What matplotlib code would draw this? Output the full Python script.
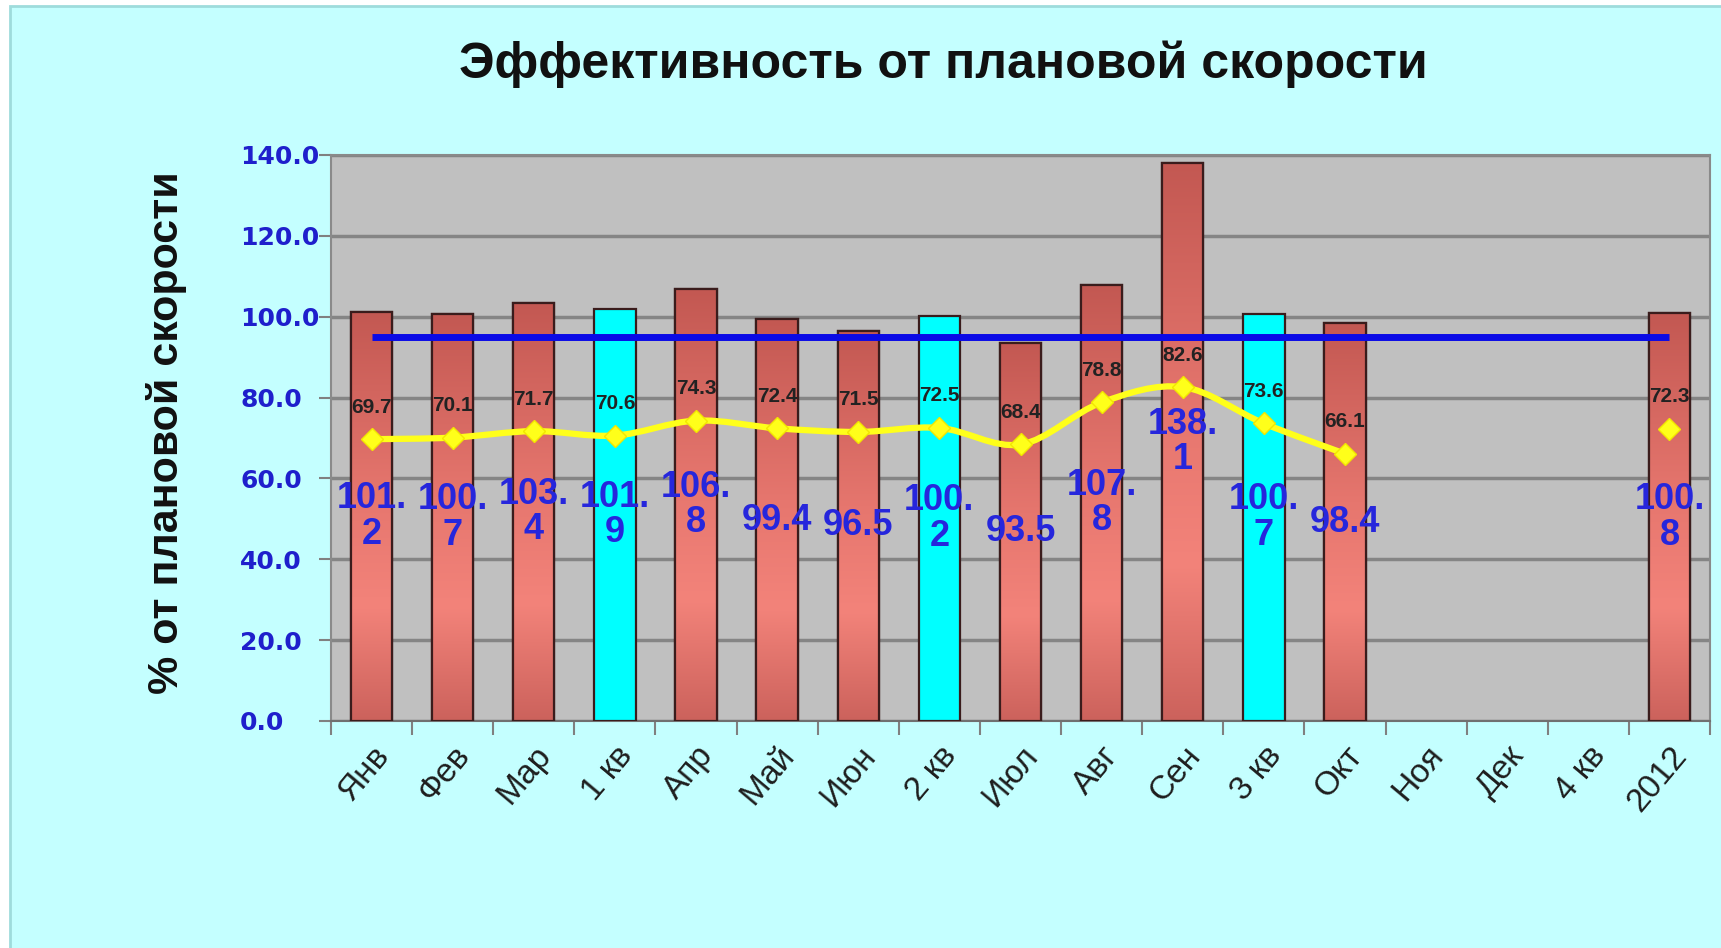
import numpy as np
import matplotlib
matplotlib.use('Agg')
import matplotlib.pyplot as plt
from matplotlib import font_manager
from matplotlib.path import Path
from matplotlib.patches import PathPatch, Rectangle
from matplotlib.colors import LinearSegmentedColormap
from matplotlib.ticker import FixedLocator, FuncFormatter

# ---------------- data ----------------
categories = ['Янв', 'Фев', 'Мар', '1 кв', 'Апр', 'Май', 'Июн', '2 кв', 'Июл',
              'Авг', 'Сен', '3 кв', 'Окт', 'Ноя', 'Дек', '4 кв', '2012']
efficiency = [101.2, 100.7, 103.4, 101.9, 106.8, 99.4, 96.5, 100.2, 93.5,
              107.8, 138.1, 100.7, 98.4, np.nan, np.nan, np.nan, 100.8]
second_series = [69.7, 70.1, 71.7, 70.6, 74.3, 72.4, 71.5, 72.5, 68.4,
                 78.8, 82.6, 73.6, 66.1, np.nan, np.nan, np.nan, 72.3]
plan_level = [95.0] * 17
is_quarter = [False, False, False, True, False, False, False, True, False,
              False, False, True, False, False, False, True, False]
y_ticks = [0, 20, 40, 60, 80, 100, 120, 140]

title = 'Эффективность от плановой скорости'
y_label = '% от плановой скорости'

# ---------------- fonts ----------------
available = {f.name for f in font_manager.fontManager.ttflist}
sans = 'Liberation Sans' if 'Liberation Sans' in available else 'DejaVu Sans'
narrow = 'Liberation Sans Narrow' if 'Liberation Sans Narrow' in available else sans
narrow_size = 31 if narrow != sans else 26

W, H = 1721, 948
fig = plt.figure(figsize=(W / 100, H / 100), dpi=100, facecolor='white')

# slide panel
fig.patches.append(Rectangle((10 / W, -0.01), 1.0, 1 - 6 / H + 0.01,
                             transform=fig.transFigure, facecolor='#c4ffff',
                             edgecolor='#9edcdc', lw=2, zorder=-5))

ax = fig.add_axes([331 / W, 1 - 721 / H, (1710 - 331) / W, (721 - 155) / H])
ax.set_zorder(2)
ax.set_facecolor('#c0c0c0')

x = np.arange(len(categories))
eff = np.array(efficiency, dtype=float)
sec = np.array(second_series, dtype=float)
has_bar = np.isfinite(eff)
quarter = np.array(is_quarter)

# bars
bar_colors = ['#00ffff' if q else '#d0665f' for q in quarter[has_bar]]
bars = ax.bar(x[has_bar], eff[has_bar], width=0.51, color=bar_colors,
              edgecolor='#3a1c1c', linewidth=1.6, zorder=3)

# gradient fill for month bars
cmap = LinearSegmentedColormap.from_list(
    'bargrad', [(0.0, '#cc625c'), (0.28, '#f3837a'), (0.55, '#e6766e'), (1.0, '#c35852')])
grad = np.linspace(0, 1, 256).reshape(-1, 1)
for b, q in zip(bars, quarter[has_bar]):
    if q:
        continue
    x0 = b.get_x()
    w = b.get_width()
    h = b.get_height()
    im = ax.imshow(grad, extent=[x0, x0 + w, 0, h], origin='lower', aspect='auto',
                   cmap=cmap, zorder=3.5, interpolation='bicubic')
    im.set_clip_path(b)
    ax.add_patch(Rectangle((x0, 0), w, h, facecolor='none', edgecolor='#3a1c1c',
                           lw=1.6, zorder=3.6))

# plan line
ax.plot(x, plan_level, color='#0a0ae6', lw=5, zorder=5, solid_capstyle='butt')

# smoothed yellow line (Excel-like Bezier smoothing)
def smooth_path(xs, ys, t=1 / 6):
    verts = [(xs[0], ys[0])]
    codes = [Path.MOVETO]
    n = len(xs)
    for i in range(n - 1):
        p0 = np.array([xs[max(i - 1, 0)], ys[max(i - 1, 0)]])
        p1 = np.array([xs[i], ys[i]])
        p2 = np.array([xs[i + 1], ys[i + 1]])
        p3 = np.array([xs[min(i + 2, n - 1)], ys[min(i + 2, n - 1)]])
        c1 = p1 + (p2 - p0) * t
        c2 = p2 - (p3 - p1) * t
        verts += [tuple(c1), tuple(c2), tuple(p2)]
        codes += [Path.CURVE4] * 3
    return Path(verts, codes)

runs = []
cur = []
for i in range(len(x)):
    if np.isfinite(sec[i]):
        cur.append(i)
    else:
        if cur:
            runs.append(cur)
        cur = []
if cur:
    runs.append(cur)
for r in runs:
    if len(r) > 1:
        p = smooth_path(x[r].astype(float), sec[r])
        ax.add_patch(PathPatch(p, facecolor='none', edgecolor='#ffff1a', lw=4.5, zorder=6,
                               capstyle='round'))
ax.plot(x, sec, linestyle='none', marker='D', markersize=11, color='#ffff1a',
        markeredgecolor='#f2e600', zorder=7)

# labels for yellow series
for i in range(len(x)):
    if np.isfinite(sec[i]):
        ax.annotate(f'{sec[i]:.1f}', (x[i], sec[i]), xytext=(0, 23),
                    textcoords='offset points', ha='center', va='center',
                    fontsize=15, fontweight='bold', color='#222222',
                    family=narrow, zorder=8)

# labels for bars
for i in range(len(x)):
    if np.isfinite(eff[i]):
        s = f'{eff[i]:.1f}'
        if eff[i] >= 100:
            s = s.replace('.', '.\n')
        ax.text(x[i], eff[i] / 2, s, ha='center', va='center', fontsize=narrow_size,
                fontweight='bold', color='#2626dc', family=narrow, linespacing=1.02,
                zorder=8, clip_on=False)

ax.set_xlim(-0.5, len(x) - 0.5)
ax.set_ylim(0, 140)

# grid and spines
ax.set_axisbelow(True)
ax.yaxis.grid(True, color='#858585', lw=2.5)
for s in ax.spines.values():
    s.set_color('#8a8a8a')
    s.set_linewidth(1.5)
ax.spines['bottom'].set_color('#707070')

ax.set_yticks(y_ticks)
ax.yaxis.set_major_formatter(FuncFormatter(lambda v, p: f'{v:.1f}'))
ax.tick_params(axis='y', length=9, width=1.5, color='#808080', pad=56.5,
               labelsize=18, labelcolor='#1f1fcc')
for lab in ax.get_yticklabels():
    lab.set_fontweight('bold')
    lab.set_family('DejaVu Sans')
    lab.set_horizontalalignment('left')

ax.set_xticks(x)
ax.set_xticklabels(categories, rotation=50, ha='right', rotation_mode='anchor',
                   fontsize=24, color='#1e1e1e', family=sans)
ax.xaxis.set_minor_locator(FixedLocator(np.arange(-0.5, len(x), 1.0)))
ax.tick_params(axis='x', which='major', length=0, pad=14)
ax.tick_params(axis='x', which='minor', length=10, width=1.5, color='#808080')

fig.text(943 / W, 1 - 64 / H, title, ha='center', va='center', fontsize=36,
         fontweight='bold', family=sans, color='#111111')
fig.text(167 / W, 1 - 433 / H, y_label, ha='center', va='center', rotation=90,
         fontsize=31, fontweight='bold', family=sans, color='#111111')

fig.savefig('out.png', dpi=100, facecolor=fig.get_facecolor())
